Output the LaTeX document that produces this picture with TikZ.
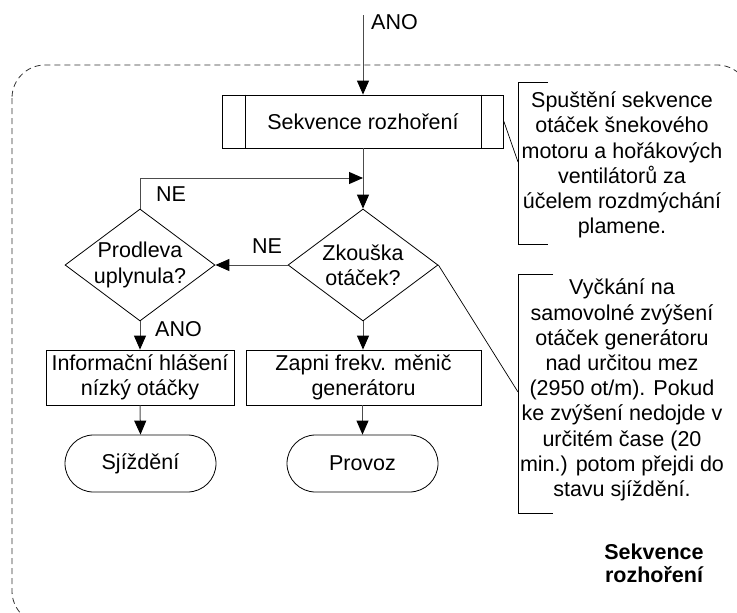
\documentclass[tikz,border=0pt]{standalone}
\usepackage{fontspec}
\setmainfont{Liberation Sans}
\usetikzlibrary{arrows.meta,shapes.geometric}

\begin{document}
\begin{tikzpicture}[x=1pt,y=-1pt,
  every node/.style={font=\fontsize{21.5}{25.2}\selectfont},
  shape line/.style={draw=black,line width=0.8pt},
  procbox/.style={shape line,rectangle,minimum height=55pt,inner sep=0pt,align=center},
  subproc/.style={shape line,rectangle,minimum width=281pt,minimum height=53pt,inner sep=0pt},
  decision/.style={shape line,diamond,minimum width=150pt,minimum height=112pt,inner sep=0pt},
  terminal/.style={shape line,rectangle,rounded corners=28.5pt,minimum width=151pt,minimum height=57pt,inner sep=0pt},
  conn/.style={draw=black!70,line width=1pt,-{Triangle[length=14pt,width=12pt,color=black]}},
  note line/.style={draw=black,line width=0.7pt},
  note/.style={align=center,inner sep=0pt},
  tag/.style={inner sep=0pt}]

\useasboundingbox (0,0) rectangle (737,613);
\clip (0,0) rectangle (737,613);

% dashed frame of the sub-process
\draw[black!80,line width=0.8pt,dash pattern=on 6pt off 4pt,rounded corners=33pt]
  (12,65) rectangle (750,624);

% entry
\coordinate (start) at (363,15);
\node[subproc] (sek) at (363,121.5) {Sekvence rozhoření};
\draw[shape line] ([xshift=23pt]sek.north west) -- ([xshift=23pt]sek.south west);
\draw[shape line] ([xshift=-23pt]sek.north east) -- ([xshift=-23pt]sek.south east);

% decisions
\node[decision,label={[align=center,inner sep=0pt]center:Zkouška\\otáček?}] (zk) at (363,265) {};
\node[decision,label={[align=center,inner sep=0pt]center:Prodleva\\uplynula?}] (pr) at (140,265) {};

% actions
\node[procbox,minimum width=188pt] (info) at (140,377.5) {Informační hlášení\\nízký otáčky};
\node[procbox,minimum width=235pt] (zap) at (363.5,377.5) {Zapni frekv. měnič\\generátoru};

% terminals
\node[terminal] (sj) at (140.5,463.5) {Sjíždění};
\node[terminal] (prov) at (362.5,463.5) {Provoz};

% connectors
\coordinate (join) at (363,178);
\draw[conn] (start) -- (sek.north);
\node[tag,anchor=west] (anotop) at (371,22) {ANO};
\draw[conn] (sek.south) -- (zk.north);
\draw[conn] (pr.north) |- (join);
\node[tag,anchor=west] (ne1) at (156,194) {NE};
\draw[conn] (zk.west) -- (pr.east);
\node[tag] (ne2) at (267,246) {NE};
\draw[conn] (pr.south) -- (info.north);
\node[tag,anchor=west] (ano2) at (155,329) {ANO};
\draw[conn] (zk.south) -- (zk.south |- zap.north);
\draw[conn] (info.south) -- (sj.north);
\draw[conn] (prov.north |- zap.south) -- (prov.north);

% annotation 1
\coordinate (b1t) at (518,82);
\coordinate (b1b) at (518,244);
\coordinate (b1m) at (518,162);
\draw[note line] (548,82) -- (b1t) -- (b1b) -- (548,244);
\draw[note line] (sek.east) -- (b1m);
\node[note] (n1) at (622,165) {Spuštění sekvence\\otáček šnekového\\motoru a hořákových\\ventilátorů za\\účelem rozdmýchání\\plamene.};

% annotation 2
\coordinate (b2t) at (518,274);
\coordinate (b2b) at (518,513);
\coordinate (b2m) at (518,392);
\draw[note line] (553,274) -- (b2t) -- (b2b) -- (553,513);
\draw[note line] (zk.east) -- (b2m);
\node[note] (n2) at (622,390) {Vyčkání na\\samovolné zvýšení\\otáček generátoru\\nad určitou mez\\(2950 ot/m). Pokud\\ke zvýšení nedojde v\\určitém čase (20\\min.) potom přejdi do\\stavu sjíždění.};

% frame title
\node[note,font=\fontsize{21.5}{23}\selectfont\bfseries] (title) at (654,563.5) {Sekvence\\rozhoření};

\end{tikzpicture}
\end{document}
